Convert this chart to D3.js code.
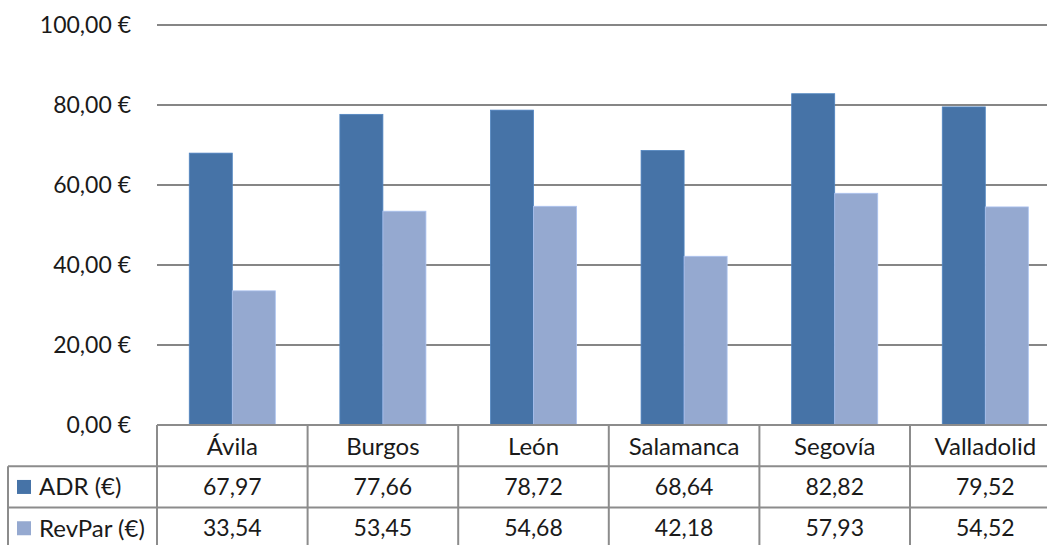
<!DOCTYPE html>
<html>
<head>
<meta charset="utf-8">
<script src="https://cdn.jsdelivr.net/npm/d3@7"></script>
<style>
    body { margin: 0; background: #fff; }
    text { font-family: Lato, "Open Sans", sans-serif; fill: #1a1a1a; }
</style>
</head>
<body>
<div id="chart"></div>
<script>
const categories = ['Ávila', 'Burgos', 'León', 'Salamanca', 'Segovía', 'Valladolid'];
const seriesNames = ['ADR (€)', 'RevPar (€)'];
const adr = [67.97, 77.66, 78.72, 68.64, 82.82, 79.52];
const revpar = [33.54, 53.45, 54.68, 42.18, 57.93, 54.52];
const yTicks = [0, 20, 40, 60, 80, 100];
const colors = ['#4673a7', '#95a9d0'];

const width = 1047;
const height = 545;
const plotLeft = 157, plotTop = 25, plotBottom = 425;
const colW = 150.6;
const rowH = 41.3;
const numSize = 23, wordSize = 24;

const svg = d3.select("#chart").append("svg")
    .attr("width", width)
    .attr("height", height);

const x = d3.scaleBand()
    .domain(categories)
    .range([plotLeft, plotLeft + colW * categories.length]);

const x1 = d3.scaleBand()
    .domain(seriesNames)
    .range([0, x.bandwidth()])
    .paddingInner(0)
    .paddingOuter(0.75);

const y = d3.scaleLinear()
    .domain([0, 100])
    .range([plotBottom, plotTop]);

const fmt = v => v.toFixed(2).replace('.', ',');

// gridlines
svg.selectAll("line.grid")
    .data(yTicks.filter(t => t > 0))
    .enter()
    .append("line")
    .attr("class", "grid")
    .attr("x1", plotLeft)
    .attr("x2", width)
    .attr("y1", d => y(d))
    .attr("y2", d => y(d))
    .attr("stroke", "#868686")
    .attr("stroke-width", 2);

// y labels
svg.selectAll("text.ytick")
    .data(yTicks)
    .enter()
    .append("text")
    .attr("class", "ytick")
    .attr("x", 131)
    .attr("y", d => y(d))
    .attr("dy", "0.35em")
    .attr("text-anchor", "end")
    .attr("font-size", numSize)
    .text(d => fmt(d) + ' €');

// bars
const series = [adr, revpar];
series.forEach((vals, si) => {
    svg.selectAll("rect.s" + si)
        .data(vals)
        .enter()
        .append("rect")
        .attr("class", "s" + si)
        .attr("x", (d, i) => x(categories[i]) + x1(seriesNames[si]))
        .attr("y", d => y(d))
        .attr("width", x1.bandwidth())
        .attr("height", d => y(0) - y(d))
        .attr("fill", colors[si])
        .attr("stroke", d3.color(colors[si]).brighter(0.4))
        .attr("stroke-width", 0.8);
});

// data table
const tableLeft = 8;
const rowTop = i => plotBottom + rowH * i;
const gridColor = "#8c8c8c";

// horizontal lines
svg.append("line")
    .attr("x1", plotLeft).attr("x2", width)
    .attr("y1", rowTop(0)).attr("y2", rowTop(0))
    .attr("stroke", gridColor).attr("stroke-width", 2);
[1, 2].forEach(r => {
    svg.append("line")
        .attr("x1", tableLeft).attr("x2", width)
        .attr("y1", rowTop(r)).attr("y2", rowTop(r))
        .attr("stroke", gridColor).attr("stroke-width", 2);
});

// vertical lines
svg.append("line")
    .attr("x1", tableLeft).attr("x2", tableLeft)
    .attr("y1", rowTop(1)).attr("y2", height)
    .attr("stroke", gridColor).attr("stroke-width", 2);
svg.selectAll("line.col")
    .data(categories.concat(['end']))
    .enter()
    .append("line")
    .attr("class", "col")
    .attr("x1", (d, i) => plotLeft + colW * i)
    .attr("x2", (d, i) => plotLeft + colW * i)
    .attr("y1", rowTop(0))
    .attr("y2", height)
    .attr("stroke", gridColor)
    .attr("stroke-width", 2);

// category row
svg.selectAll("text.cat")
    .data(categories)
    .enter()
    .append("text")
    .attr("class", "cat")
    .attr("x", d => x(d) + x.bandwidth() / 2)
    .attr("y", rowTop(0) + rowH / 2 + 1)
    .attr("dy", "0.35em")
    .attr("text-anchor", "middle")
    .attr("font-size", wordSize)
    .text(d => d);

// series rows
series.forEach((vals, si) => {
    const cy = rowTop(si + 1) + rowH / 2;
    svg.append("rect")
        .attr("x", 17)
        .attr("y", cy - 7)
        .attr("width", 14)
        .attr("height", 14)
        .attr("fill", colors[si]);
    svg.append("text")
        .attr("x", 39)
        .attr("y", cy)
        .attr("dy", "0.35em")
        .attr("font-size", wordSize)
        .text(seriesNames[si]);
    svg.selectAll("text.v" + si)
        .data(vals)
        .enter()
        .append("text")
        .attr("class", "v" + si)
        .attr("x", (d, i) => x(categories[i]) + x.bandwidth() / 2)
        .attr("y", cy)
        .attr("dy", "0.35em")
        .attr("text-anchor", "middle")
        .attr("font-size", numSize)
        .text(d => fmt(d));
});
</script>
</body>
</html>
